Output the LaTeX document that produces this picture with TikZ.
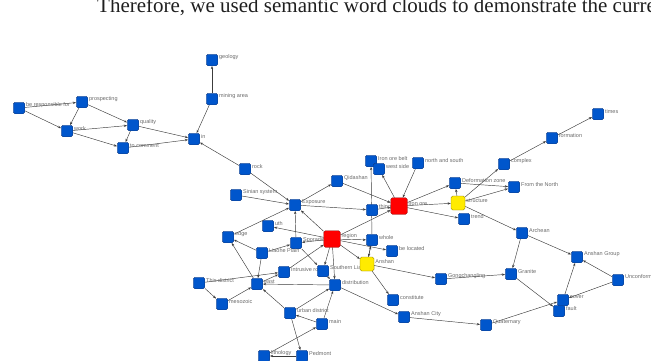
\documentclass[tikz,border=0pt]{standalone}
\usepackage{fontspec}
\usetikzlibrary{arrows.meta}
\newfontfamily\labelsans{Liberation Sans}
\newfontfamily\headserif{Liberation Serif}
\definecolor{kwblue}{RGB}{0,86,204}
\definecolor{kwblueedge}{RGB}{20,55,120}
\definecolor{hubred}{RGB}{255,0,0}
\definecolor{hubrededge}{RGB}{130,0,0}
\definecolor{midyellow}{RGB}{255,235,0}
\definecolor{midyellowedge}{RGB}{140,120,0}
\definecolor{lblgray}{RGB}{105,105,105}
\definecolor{linkgray}{RGB}{60,60,60}
\pgfdeclarelayer{bg}
\pgfsetlayers{bg,main}
\tikzset{
  kw/.style={rectangle, rounded corners=1.6pt, minimum size=11.5pt, inner sep=0pt,
             fill=kwblue, draw=kwblueedge, line width=0.4pt},
  hub/.style={kw, minimum size=16.5pt, fill=hubred, draw=hubrededge},
  mid/.style={kw, minimum size=14pt, fill=midyellow, draw=midyellowedge},
  lbl/.style={font=\labelsans\fontsize{5.5}{6.5}\selectfont, text=lblgray, inner sep=0pt,
              label distance=1pt, yshift=2.5pt},
  link/.style={draw=linkgray, line width=0.45pt, -{Stealth[length=3.2pt,width=2.4pt]}}
}
% keyword node: name, x, y, label, style
\newcommand\knode[5][kw]{\node[#1, label={[lbl]east:#5}] (#2) at (#3,#4) {};}

\begin{document}
\begin{tikzpicture}[x=1pt,y=-1pt]
\useasboundingbox (0,0) rectangle (651,360);

% running text of the page above the figure
\node[anchor=base west, inner sep=0pt, text=black!88,
      font=\headserif\fontsize{21}{24}\selectfont] (head) at (97,12)
  {Therefore, we used semantic word clouds to demonstrate the curre};

% keyword nodes (later ones are painted over earlier labels)
\knode{geology}{212}{60}{geology}
\knode{mining}{212}{99}{mining area}
\knode{resp}{19}{108}{be responsible for}
\knode{prosp}{82}{102}{prospecting}
\knode{work}{67}{131}{work}
\knode{quality}{133}{125}{quality}
\knode{comment}{123}{148}{to comment}
\knode{in}{194}{139}{in}
\knode{rock}{245}{169}{rock}
\knode{sinian}{236}{195}{Sinian system}
\knode{exposure}{295}{205}{Exposure}
\knode{qidashan}{337}{181}{Qidashan}
\knode{belt}{371}{161}{Iron ore belt}
\knode{west}{379}{169}{west side}
\knode{north}{418}{163}{north and south}
\knode{thing}{372}{210}{thing}
\knode{earth}{268}{226}{uth}
\knode{edge}{228}{237}{edge}
\knode{sporadic}{296}{243}{Sporadic}
\knode{whole}{372}{240}{whole}
\knode{belocated}{392}{251}{be located}
\knode{liaohe}{262}{253}{Liaohe Plain}
\knode{thisdist}{199}{283}{This district}
\knode{intrusive}{284}{272}{Intrusive rock}
\knode{southern}{323}{271}{Southern Liaoning}
\knode{east}{257}{284}{east}
\knode{distrib}{335}{285}{distribution}
\knode{mesozoic}{222}{304}{mesozoic}
\knode{urban}{290}{313}{urban district}
\knode{main}{322}{324}{main}
\knode{lithology}{264}{356}{lithology}
\knode{pedmont}{302}{356}{Pedmont}
\knode{constitute}{393}{300}{constitute}
\knode{anshancity}{404}{317}{Anshan City}
\knode{quaternary}{486}{325}{Quaternary}
\knode{gongchang}{441}{279}{Gongchangling}
\knode{granite}{511}{274}{Granite}
\knode{archean}{522}{233}{Archean}
\knode{angroup}{577}{257}{Anshan Group}
\knode{unconf}{618}{280}{Unconformity}
\knode{fault}{559}{311}{fault}
\knode{cover}{563}{300}{cover}
\knode{deform}{455}{183}{Deformation zone}
\knode{trend}{464}{219}{trend}
\knode{complex}{504}{164}{complex}
\knode{formation}{552}{138}{formation}
\knode{times}{598}{114}{times}
\knode{fromnorth}{514}{187}{From the North}
\knode[mid]{structure}{458}{203}{structure}
\knode[mid]{anshan}{367}{264}{Anshan}
\knode[hub]{ironore}{399}{206}{iron ore}
\knode[hub]{region}{332}{239}{region}

% directed links
\begin{pgfonlayer}{bg}
\foreach \a/\b in {
  resp/prosp, resp/work, prosp/work, prosp/quality, work/quality, work/comment,
  quality/comment, quality/in, comment/in, mining/geology, mining/in, rock/in,
  rock/exposure, sinian/exposure, exposure/qidashan, qidashan/ironore,
  exposure/thing, thing/ironore, region/exposure, edge/exposure, sporadic/exposure,
  region/earth, region/sporadic, region/ironore, region/whole, region/belocated,
  region/anshan, region/southern, region/distrib, whole/belt, ironore/west,
  west/belt, north/ironore, ironore/structure, ironore/deform, ironore/trend,
  structure/deform, structure/complex, deform/fromnorth, structure/fromnorth,
  complex/formation, formation/times, structure/archean, archean/granite,
  archean/angroup, granite/fault, cover/angroup, unconf/angroup, unconf/cover,
  quaternary/cover, anshancity/quaternary, gongchang/granite, anshan/gongchang,
  anshan/constitute, distrib/anshancity, whole/anshan, anshan/whole,
  southern/distrib, intrusive/region, east/intrusive, thisdist/intrusive,
  distrib/east, east/edge, liaohe/edge, liaohe/east, mesozoic/east, urban/east,
  urban/distrib, main/urban, main/distrib, urban/pedmont, pedmont/lithology,
  lithology/main, thisdist/mesozoic, sporadic/southern, liaohe/sporadic}
  \draw[link] (\a) -- (\b);
\end{pgfonlayer}
\end{tikzpicture}
\end{document}
